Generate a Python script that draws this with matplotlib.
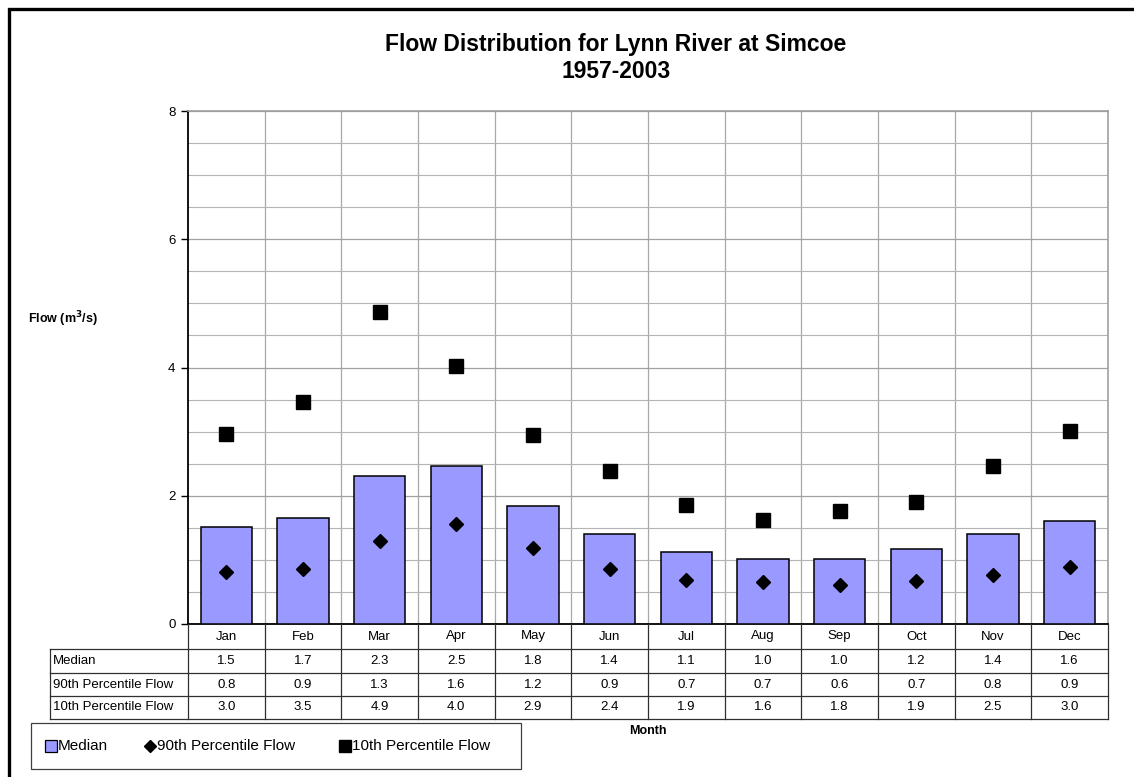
import matplotlib.pyplot as plt
from matplotlib.lines import Line2D
from matplotlib.patches import Rectangle
import numpy as np

plt.rcParams['font.family'] = ['Liberation Sans', 'DejaVu Sans']

months = ['Jan', 'Feb', 'Mar', 'Apr', 'May', 'Jun', 'Jul', 'Aug', 'Sep', 'Oct', 'Nov', 'Dec']
median = [1.52, 1.66, 2.31, 2.46, 1.84, 1.41, 1.13, 1.01, 1.02, 1.17, 1.41, 1.60]
p90 = [0.81, 0.86, 1.30, 1.56, 1.18, 0.86, 0.69, 0.66, 0.61, 0.67, 0.76, 0.89]
p10 = [2.96, 3.46, 4.86, 4.02, 2.94, 2.39, 1.86, 1.62, 1.76, 1.91, 2.46, 3.01]
row_names = ['Median', '90th Percentile Flow', '10th Percentile Flow']

W, H = 1134, 777
fig = plt.figure(figsize=(W / 100, H / 100), dpi=100)

def fx(x):
    return x / W

def fy(y):
    return 1 - y / H

# plot area in pixels
L, R, T, B = 188, 1108, 111, 624
ax = fig.add_axes([fx(L), fy(B), fx(R) - fx(L), fy(T) - fy(B)])

x = np.arange(len(months))
ax.bar(x, median, width=0.67, color='#9999ff', edgecolor='black', linewidth=1.1, zorder=3)
ax.plot(x, p90, 'D', color='black', markersize=7, zorder=4)
ax.plot(x, p10, 's', color='black', markersize=9.5, zorder=4)

ax.set_xlim(-0.5, 11.5)
ax.set_ylim(0, 8)
ax.set_yticks([0, 2, 4, 6, 8])
ax.set_yticks(np.arange(0.5, 8, 0.5), minor=True)
ax.set_xticks(np.arange(0.5, 11.5, 1), minor=True)
ax.set_xticks([])
ax.grid(which='minor', axis='y', color='#b4b4b4', linewidth=0.8, zorder=0)
ax.grid(which='major', axis='y', color='#a0a0a0', linewidth=0.9, zorder=0)
ax.grid(which='minor', axis='x', color='#a8a8a8', linewidth=0.9, zorder=0)
ax.tick_params(axis='y', which='major', length=5, width=1, labelsize=9.5, pad=4)
ax.tick_params(axis='y', which='minor', length=0)
ax.tick_params(axis='x', which='both', length=0)
for s in ['top', 'right']:
    ax.spines[s].set_color('#a0a0a0')
    ax.spines[s].set_linewidth(1.2)
ax.spines['left'].set_linewidth(1.3)
ax.spines['bottom'].set_linewidth(1.3)

# titles
fig.text(fx(616), fy(44), 'Flow Distribution for Lynn River at Simcoe', ha='center', va='center',
         fontsize=16.5, fontweight='bold')
fig.text(fx(616), fy(71), '1957-2003', ha='center', va='center', fontsize=16.5, fontweight='bold')
fig.text(fx(28), fy(319), 'Flow (m$^\\mathbf{3}$/s)', ha='left', va='center', fontsize=9, fontweight='bold')
fig.text(fx(648), fy(731), 'Month', ha='center', va='center', fontsize=9, fontweight='bold')

# data table
def hline(x0, x1, y, c='#303030', lw=0.9):
    fig.add_artist(Line2D([fx(x0), fx(x1)], [fy(y), fy(y)], transform=fig.transFigure, color=c, linewidth=lw))

def vline(xp, y0, y1, c='#303030', lw=0.9):
    fig.add_artist(Line2D([fx(xp), fx(xp)], [fy(y0), fy(y1)], transform=fig.transFigure, color=c, linewidth=lw))

rows_y = [624, 649, 673, 696, 719]
lab_left = 50
colw = (R - L) / len(months)
for yy in rows_y[1:]:
    hline(lab_left, R, yy)
vline(lab_left, rows_y[1], rows_y[4])
for j in range(len(months) + 1):
    vline(L + j * colw, rows_y[0], rows_y[4])

for j, m in enumerate(months):
    cx = L + (j + 0.5) * colw
    fig.text(fx(cx), fy((rows_y[0] + rows_y[1]) / 2), m, ha='center', va='center', fontsize=9.5)
    for r, vals in enumerate([median, p90, p10]):
        cy = (rows_y[r + 1] + rows_y[r + 2]) / 2
        fig.text(fx(cx), fy(cy), '%.1f' % vals[j], ha='center', va='center', fontsize=9.5)
for r, name in enumerate(row_names):
    cy = (rows_y[r + 1] + rows_y[r + 2]) / 2
    fig.text(fx(lab_left + 3), fy(cy), name, ha='left', va='center', fontsize=9.5)

# legend box
fig.add_artist(Rectangle((fx(31), fy(769)), fx(521) - fx(31), fy(723) - fy(769), transform=fig.transFigure,
                         facecolor='white', edgecolor='#404040', linewidth=0.9))
ly = fy(746)
fig.add_artist(Line2D([fx(51)], [ly], transform=fig.transFigure, marker='s', markersize=8,
                      markerfacecolor='#9999ff', markeredgecolor='black', markeredgewidth=0.9, linestyle=''))
fig.text(fx(58), ly, 'Median', ha='left', va='center', fontsize=11)
fig.add_artist(Line2D([fx(150)], [ly], transform=fig.transFigure, marker='D', markersize=6.3,
                      color='black', linestyle=''))
fig.text(fx(157), ly, '90th Percentile Flow', ha='left', va='center', fontsize=11)
fig.add_artist(Line2D([fx(345)], [ly], transform=fig.transFigure, marker='s', markersize=8,
                      color='black', linestyle=''))
fig.text(fx(352), ly, '10th Percentile Flow', ha='left', va='center', fontsize=11)

# chart border
fig.add_artist(Rectangle((fx(9), fy(H + 20)), fx(W + 20) - fx(9), fy(9) - fy(H + 20), transform=fig.transFigure,
                         facecolor='none', edgecolor='black', linewidth=2.4))

fig.savefig('out.png', dpi=100)
